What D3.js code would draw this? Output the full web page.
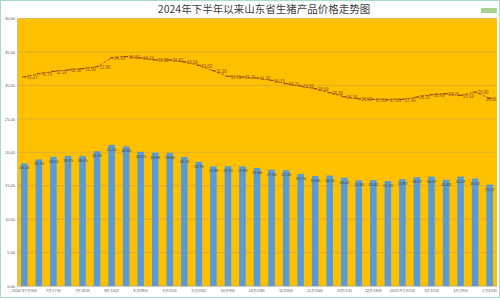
<html lang="zh">
<head>
<meta charset="UTF-8">
<title>2024年下半年以来山东省生猪产品价格走势图</title>
<script src="https://d3js.org/d3.v7.min.js"></script>
<style>
  body { margin: 0; background: #fff; font-family: "Noto Sans CJK SC", "Noto Sans", sans-serif; }
  .tick text { fill: #595959; }
</style>
</head>
<body>
<div id="chart"></div>
<script>
// weekly dates (Wednesdays)
const dates = [
  "2024年7月3日", "7月10日", "7月17日", "7月24日", "7月31日", "8月7日", "8月14日", "8月21日",
  "8月28日", "9月4日", "9月11日", "9月18日", "9月25日", "10月2日", "10月9日", "10月16日",
  "10月23日", "10月30日", "11月6日", "11月13日", "11月20日", "11月27日", "12月4日", "12月11日",
  "12月18日", "12月25日", "2025年1月1日", "1月8日", "1月15日", "1月22日", "1月29日", "2月5日", "2月12日"
];

// bar series (生猪价格)
const hogPrice = [
  18.35, 18.93, 19.32, 19.45, 19.45, 20.16, 21.11, 20.86, 20.05, 19.94, 19.90, 19.32,
  18.55, 17.90, 17.91, 17.90, 17.66, 17.40, 17.30, 16.76, 16.46, 16.52, 16.20, 15.80,
  15.82, 15.70, 15.97, 16.27, 16.37, 15.88, 16.37, 16.07, 15.17
];

// line series (猪肉价格)
const porkPrice = [
  31.27, 31.75, 32.10, 32.30, 32.50, 32.80, 34.10, 34.30, 34.10, 33.80, 33.80, 33.50,
  33.00, 32.20, 31.35, 31.25, 31.10, 30.75, 30.25, 29.90, 29.50, 28.90, 28.30, 28.00,
  27.90, 27.85, 27.90, 28.25, 28.60, 28.75, 28.50, 29.00, 28.06
];

const yTicks = [0, 5, 10, 15, 20, 25, 30, 35, 40];

const W = 500, H = 300;
const plot = { left: 17, right: 497, top: 18.5, bottom: 286 };

const svg = d3.select("#chart").append("svg")
  .attr("width", W)
  .attr("height", H);

// outer frame
svg.append("rect")
  .attr("x", 0.5).attr("y", 0.5)
  .attr("width", W - 1).attr("height", H - 3)
  .attr("fill", "#fff")
  .attr("stroke", "#a8dcc8");

// title
svg.append("text")
  .attr("x", 264).attr("y", 13)
  .attr("text-anchor", "middle")
  .attr("font-size", 10.5)
  .attr("fill", "#404040")
  .text("2024年下半年以来山东省生猪产品价格走势图");

// small legend-like box top right
svg.append("rect")
  .attr("x", 481).attr("y", 8)
  .attr("width", 16).attr("height", 5)
  .attr("fill", "#a9d18e");

const x = d3.scaleBand()
  .domain(d3.range(dates.length))
  .range([plot.left, plot.right])
  .paddingInner(0.55)
  .paddingOuter(0.28);

const y = d3.scaleLinear()
  .domain([0, 40])
  .range([plot.bottom, plot.top]);

// plot background
svg.append("rect")
  .attr("x", plot.left).attr("y", plot.top)
  .attr("width", plot.right - plot.left)
  .attr("height", plot.bottom - plot.top)
  .attr("fill", "#ffc000");

// gridlines
svg.append("g")
  .selectAll("line")
  .data(yTicks)
  .join("line")
  .attr("x1", plot.left).attr("x2", plot.right)
  .attr("y1", d => y(d)).attr("y2", d => y(d))
  .attr("stroke", "#c9a14a")
  .attr("stroke-width", 0.6);

// y axis
const yAxis = svg.append("g")
  .attr("transform", `translate(${plot.left},0)`)
  .call(d3.axisLeft(y).tickValues(yTicks).tickFormat(d3.format(".2f")).tickSize(0).tickPadding(2));
yAxis.select(".domain").attr("stroke", "#bfbfbf").attr("stroke-width", 0.6);
yAxis.selectAll("text").attr("font-size", 4);

// bars
svg.append("g")
  .selectAll("rect")
  .data(hogPrice)
  .join("rect")
  .attr("x", (d, i) => x(i))
  .attr("y", d => y(d))
  .attr("width", x.bandwidth())
  .attr("height", d => y(0) - y(d))
  .attr("fill", "#5b9bd5");

// bar labels
svg.append("g")
  .selectAll("text")
  .data(hogPrice)
  .join("text")
  .attr("x", (d, i) => x(i) + x.bandwidth() / 2)
  .attr("y", d => y(d) + 6)
  .attr("text-anchor", "middle")
  .attr("font-size", 4)
  .attr("fill", "#404040")
  .text(d => d.toFixed(2));

// x axis
const xAxis = svg.append("g")
  .attr("transform", `translate(0,${plot.bottom})`)
  .call(d3.axisBottom(x)
    .tickValues(d3.range(0, dates.length, 2))
    .tickFormat(i => dates[i])
    .tickSize(0).tickPadding(3));
xAxis.select(".domain").attr("stroke", "#bfbfbf").attr("stroke-width", 0.6);
xAxis.selectAll("text").attr("font-size", 4);

// line series
const cx = i => x(i) + x.bandwidth() / 2;
const line = d3.line()
  .x((d, i) => cx(i))
  .y(d => y(d));

svg.append("path")
  .datum(porkPrice)
  .attr("d", line)
  .attr("fill", "none")
  .attr("stroke", "#b8510e")
  .attr("stroke-width", 0.9)
  .attr("stroke-dasharray", "3,1.5");

// markers
svg.append("g")
  .selectAll("line")
  .data(porkPrice)
  .join("line")
  .attr("x1", (d, i) => cx(i) - 2)
  .attr("x2", (d, i) => cx(i) + 2)
  .attr("y1", d => y(d))
  .attr("y2", d => y(d))
  .attr("stroke", "#963f0a")
  .attr("stroke-width", 1);

// line labels (last one kept inside the plot)
const last = porkPrice.length - 1;
svg.append("g")
  .selectAll("text")
  .data(porkPrice)
  .join("text")
  .attr("x", (d, i) => i === last ? plot.right - 0.5 : cx(i) + 2.5)
  .attr("y", d => y(d) + 2.2)
  .attr("text-anchor", (d, i) => i === last ? "end" : "start")
  .attr("font-size", 4.3)
  .attr("fill", "#843c0c")
  .text(d => d.toFixed(2));
</script>
</body>
</html>
